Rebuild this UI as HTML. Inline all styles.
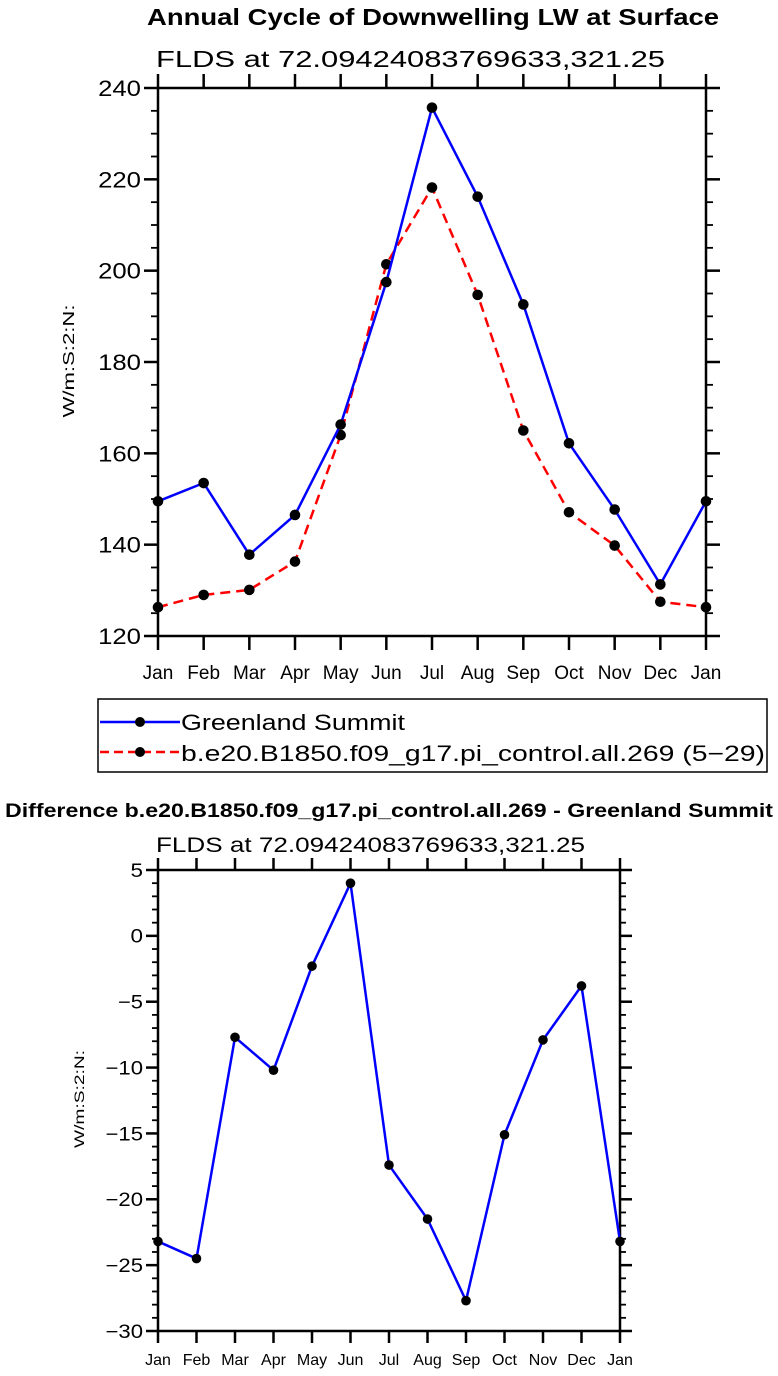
<!DOCTYPE html>
<html><head><meta charset="utf-8"><style>
html,body{margin:0;padding:0;background:#fff;}
svg{display:block;font-family:"Liberation Sans",sans-serif;}
</style></head><body>
<svg id="fig" width="778" height="1376" viewBox="0 0 778 1376" xmlns="http://www.w3.org/2000/svg">
<text x="433" y="25" text-anchor="middle" font-weight="bold" font-size="23" textLength="572" lengthAdjust="spacingAndGlyphs">Annual Cycle of Downwelling LW at Surface</text>
<text x="156" y="67" font-size="23" textLength="509" lengthAdjust="spacingAndGlyphs">FLDS at 72.09424083769633,321.25</text>
<text transform="translate(74,361) rotate(-90)" text-anchor="middle" font-size="16" textLength="113" lengthAdjust="spacingAndGlyphs">W/m:S:2:N:</text>
<g id="top"></g>
<g>
<rect x="98" y="699" width="669" height="73" fill="none" stroke="#000" stroke-width="1.5"/>
<g>
<line x1="100" y1="722" x2="180" y2="722" stroke="#0000ff" stroke-width="2.5"/>
<circle cx="140" cy="722" r="5" fill="#000"/>
<text x="181" y="730" font-size="22" textLength="224" lengthAdjust="spacingAndGlyphs">Greenland Summit</text>
</g>
<g>
<line x1="100" y1="752" x2="180" y2="752" stroke="#ff0000" stroke-width="2.5" stroke-dasharray="9,5"/>
<circle cx="140" cy="752" r="5" fill="#000"/>
<text x="181" y="761" font-size="22" textLength="584" lengthAdjust="spacingAndGlyphs">b.e20.B1850.f09_g17.pi_control.all.269 (5−29)</text>
</g>
</g>
<text x="389" y="817" text-anchor="middle" font-weight="bold" font-size="19" textLength="768" lengthAdjust="spacingAndGlyphs">Difference b.e20.B1850.f09_g17.pi_control.all.269 - Greenland Summit</text>
<text x="156" y="852" font-size="21" textLength="429" lengthAdjust="spacingAndGlyphs">FLDS at 72.09424083769633,321.25</text>
<text transform="translate(84,1099) rotate(-90)" text-anchor="middle" font-size="14" textLength="98" lengthAdjust="spacingAndGlyphs">W/m:S:2:N:</text>
<g id="bot"></g>
</svg>
<script>
const months = ["Jan","Feb","Mar","Apr","May","Jun","Jul","Aug","Sep","Oct","Nov","Dec","Jan"];
const obsValues = [149.5,153.5,137.8,146.5,166.3,197.5,235.7,216.2,192.6,162.2,147.7,131.3,149.5];
const modelValues = [126.3,129.0,130.1,136.3,164.0,201.4,218.2,194.7,165.0,147.1,139.8,127.5,126.3];
const diffValues = [-23.2,-24.5,-7.7,-10.2,-2.3,4.0,-17.4,-21.5,-27.7,-15.1,-7.9,-3.8,-23.2];
const topTicks = [120,140,160,180,200,220,240];
const botTicks = [-30,-25,-20,-15,-10,-5,0,5];

const NS = "http://www.w3.org/2000/svg";
function mk(parent, tag, attrs){const e=document.createElementNS(NS,tag);for(const k in attrs)e.setAttribute(k,attrs[k]);parent.appendChild(e);return e;}

function chart(g, cfg){
  const {L,R,T,B,ymin,ymax,ticks,minorStep,fs,monthY,tickLen,minorLen,dotR} = cfg;
  const xs = i => L + (R-L)*i/(months.length-1);
  const ys = v => B - (B-T)*(v-ymin)/(ymax-ymin);
  const ax = mk(g,"g",{});
  
  
  mk(ax,"rect",{x:L,y:T,width:R-L,height:B-T,fill:"none",stroke:"#000","stroke-width":2.5});
  for(let v=ymin; v<=ymax+1e-9; v+=minorStep){
    const y=ys(v);
    const major = ticks.some(t=>Math.abs(t-v)<1e-6);
    const len = major?tickLen:minorLen;
    mk(ax,"line",{x1:L-len,y1:y,x2:L,y2:y,stroke:"#000","stroke-width":major?2.5:1.8});
    mk(ax,"line",{x1:R,y1:y,x2:R+len,y2:y,stroke:"#000","stroke-width":major?2.5:1.8});
  }
  ticks.forEach(t=>{
    const s = String(t).replace("-","−");
    const tx = mk(ax,"text",{x:L-tickLen-3,y:ys(t)+fs*0.36,"text-anchor":"end","font-size":fs,textLength:s.length*cfg.cw,lengthAdjust:"spacingAndGlyphs"});
    tx.textContent = s;
    
    
  });
  months.forEach((m,i)=>{
    const x=xs(i);
    mk(ax,"line",{x1:x,y1:B,x2:x,y2:B+tickLen,stroke:"#000","stroke-width":2.5});
    mk(ax,"line",{x1:x,y1:T-tickLen,x2:x,y2:T,stroke:"#000","stroke-width":2.5});
    const tx = mk(ax,"text",{x:x,y:monthY,"text-anchor":"middle","font-size":cfg.mfs});
    tx.textContent = m;
    
    
  });
  cfg.series.forEach(s=>{
    const sg = mk(g,"g",{});
    
    
    const pts = s.values.map((v,i)=>xs(i)+","+ys(v)).join(" ");
    const pl = mk(sg,"polyline",{points:pts,fill:"none",stroke:s.color,"stroke-width":2.5,"stroke-dasharray":s.dash||"none"});
    
    
    s.values.forEach((v,i)=>{
      const c = mk(sg,"circle",{cx:xs(i),cy:ys(v),r:dotR,fill:"#000"});
      
      
    });
  });
}
chart(document.getElementById("top"),{prefix:"top",L:158,R:706,T:88,B:636,ymin:120,ymax:240,ticks:topTicks,minorStep:5,fs:22,cw:14.3,mfs:19,monthY:679,tickLen:14,minorLen:7,dotR:5.3,
  series:[{name:"model-series",values:modelValues,color:"#ff0000",dash:"10,6"},{name:"greenland-series",values:obsValues,color:"#0000ff"}]});
chart(document.getElementById("bot"),{prefix:"bottom",L:158,R:620,T:870,B:1331,ymin:-30,ymax:5,ticks:botTicks,minorStep:1,fs:19,cw:12.5,mfs:16,monthY:1365,tickLen:12,minorLen:6,dotR:4.8,
  series:[{name:"difference-series",values:diffValues,color:"#0000ff"}]});
</script>
</body></html>
